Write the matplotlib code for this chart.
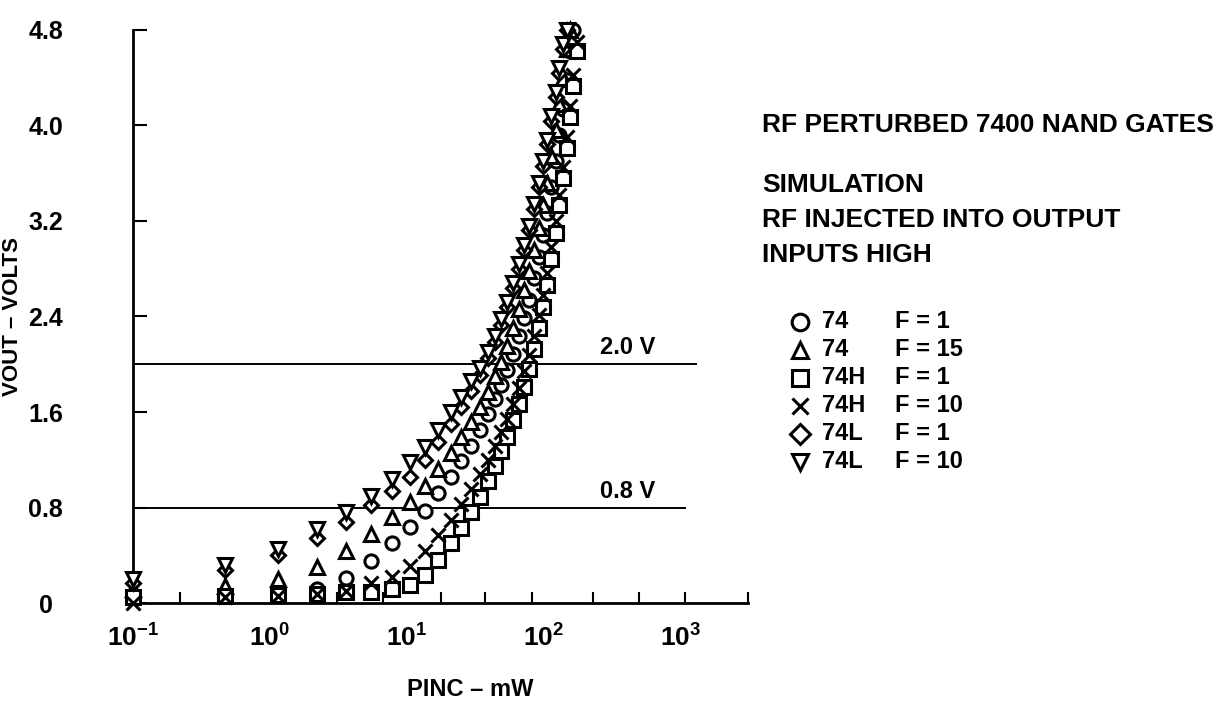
import numpy as np
import matplotlib.pyplot as plt
from matplotlib.lines import Line2D
from matplotlib.ticker import FixedLocator, NullFormatter

plt.rcParams["font.family"] = ["Liberation Sans", "DejaVu Sans"]
plt.rcParams["font.weight"] = "bold"
plt.rcParams["mathtext.fontset"] = "custom"
plt.rcParams["mathtext.rm"] = "Liberation Sans:bold"
plt.rcParams["mathtext.bf"] = "Liberation Sans:bold"

# =====================================================
# Data
# =====================================================

# incident RF power, mW (shared sample points)
pinc = [0.1, 0.47, 1.15, 2.2, 3.6, 5.5, 7.8, 10.5, 13.5, 17, 21, 25, 29.5,
        34, 39, 44, 49, 54, 60, 66, 72, 78, 85, 92, 99, 106, 114, 122, 130,
        138, 147, 156, 165, 175]

# output voltage, V
v_74_f1 = [0.07, 0.06, 0.08, 0.12, 0.21, 0.35, 0.50, 0.64, 0.77, 0.92, 1.06,
           1.19, 1.32, 1.45, 1.58, 1.71, 1.83, 1.95, 2.09, 2.24, 2.39, 2.54,
           2.72, 2.90, 3.08, 3.27, 3.48, 3.70, 3.92, 4.14, 4.38, 4.62, 4.80]
v_74_f15 = [0.12, 0.14, 0.20, 0.30, 0.44, 0.58, 0.72, 0.85, 0.98, 1.12, 1.26,
            1.39, 1.52, 1.64, 1.77, 1.90, 2.02, 2.15, 2.30, 2.46, 2.62, 2.78,
            2.96, 3.14, 3.33, 3.52, 3.74, 3.96, 4.18, 4.40, 4.64, 4.80]
v_74h_f1 = [0.05, 0.06, 0.07, 0.08, 0.09, 0.09, 0.12, 0.15, 0.24, 0.36, 0.50,
            0.63, 0.76, 0.89, 1.02, 1.15, 1.27, 1.39, 1.53, 1.67, 1.81, 1.96,
            2.13, 2.30, 2.48, 2.66, 2.88, 3.10, 3.33, 3.56, 3.81, 4.07, 4.33,
            4.62]
v_74h_f10 = [0.00, 0.05, 0.06, 0.08, 0.10, 0.17, 0.22, 0.31, 0.44, 0.57, 0.70,
             0.83, 0.96, 1.08, 1.20, 1.32, 1.43, 1.54, 1.67, 1.80, 1.94, 2.08,
             2.24, 2.41, 2.58, 2.76, 2.98, 3.20, 3.42, 3.65, 3.90, 4.16, 4.42,
             4.70]
v_74l_f1 = [0.17, 0.28, 0.40, 0.55, 0.68, 0.82, 0.94, 1.06, 1.20, 1.35, 1.50,
            1.64, 1.78, 1.91, 2.05, 2.19, 2.33, 2.48, 2.64, 2.80, 2.96, 3.12,
            3.30, 3.48, 3.66, 3.84, 4.04, 4.24, 4.44, 4.64, 4.80]
v_74l_f10 = [0.20, 0.32, 0.45, 0.62, 0.76, 0.90, 1.04, 1.18, 1.31, 1.45, 1.60,
             1.73, 1.86, 1.97, 2.10, 2.24, 2.38, 2.52, 2.68, 2.84, 3.00, 3.16,
             3.34, 3.52, 3.70, 3.88, 4.08, 4.28, 4.48, 4.68, 4.80]

series = [
    ("o", "74", "F = 1", v_74_f1),
    ("^", "74", "F = 15", v_74_f15),
    ("s", "74H", "F = 1", v_74h_f1),
    ("x", "74H", "F = 10", v_74h_f10),
    ("D", "74L", "F = 1", v_74l_f1),
    ("v", "74L", "F = 10", v_74l_f10),
]

thresholds = [2.0, 0.8]
threshold_ends = [1320, 1100]
threshold_labels = ["2.0 V", "0.8 V"]

# =====================================================
# Plot
# =====================================================

fig = plt.figure(figsize=(12.32, 7.08), dpi=100)
ax = fig.add_axes([0.108, 0.148, 0.499, 0.810])

for marker, gate, fan, volts in series:
    ms = 7.5 if marker == "D" else 9.5
    ax.plot(pinc[:len(volts)], volts, linestyle="none", marker=marker,
            markersize=ms, markerfacecolor="white", markeredgecolor="black",
            markeredgewidth=2.2, color="black", clip_on=False, zorder=3)

for level, end, label in zip(thresholds, threshold_ends, threshold_labels):
    ax.hlines(level, 0.1, end, color="black", linewidth=1.4, clip_on=False)
    ax.text(260, level + 0.04, label, fontsize=17, fontweight="bold",
            ha="left", va="bottom")

ax.set_xscale("log")
ax.set_xlim(0.1, 3100)
ax.set_ylim(0, 4.8)

for side in ["top", "right"]:
    ax.spines[side].set_visible(False)
for side in ["left", "bottom"]:
    ax.spines[side].set_linewidth(2)

# y axis
ax.set_yticks([0, 0.8, 1.6, 2.4, 3.2, 4.0, 4.8])
ax.set_yticklabels(["0", "0.8", "1.6", "2.4", "3.2", "4.0", "4.8"])
ax.tick_params(axis="y", direction="in", length=10, width=1.5, pad=63,
               labelsize=18)
for lab in ax.get_yticklabels():
    lab.set_horizontalalignment("center")
    lab.set_fontweight("bold")

# x axis: decade labels, small irregular inward ticks
ax.set_xticks([0.1, 1, 10, 100, 1000])
ax.set_xticklabels([r"$\mathbf{10^{-1}}$", r"$\mathbf{10^{0}}$",
                    r"$\mathbf{10^{1}}$", r"$\mathbf{10^{2}}$",
                    r"$\mathbf{10^{3}}$"])
ax.tick_params(axis="x", which="major", length=0, pad=15, labelsize=19)
ax.xaxis.set_minor_locator(FixedLocator(
    [0.22, 0.48, 1.15, 3.1, 6.7, 17.7, 37, 82, 231, 500, 1070, 3090]))
ax.xaxis.set_minor_formatter(NullFormatter())
ax.tick_params(axis="x", which="minor", direction="in", length=8, width=1.5)

fig.text(13 / 1232, 1 - 316 / 708, "VOUT – VOLTS", rotation=90,
         fontsize=16, fontweight="bold", ha="center", va="center")
fig.text(470 / 1232, 1 - 690 / 708, "PINC – mW", fontsize=17,
         fontweight="bold", ha="center", va="center")

# =====================================================
# Annotation block and legend
# =====================================================

block = [("RF PERTURBED 7400 NAND GATES", 125),
         ("SIMULATION", 185),
         ("RF INJECTED INTO OUTPUT", 220),
         ("INPUTS HIGH", 255)]
for text, ypix in block:
    fig.text(762 / 1232, 1 - ypix / 708, text, fontsize=19,
             fontweight="bold", ha="left", va="center")

for i, (marker, gate, fan, volts) in enumerate(series):
    yfig = 1 - (322 + 28 * i) / 708
    ms = 10 if marker == "D" else 12
    fig.add_artist(Line2D([800 / 1232], [yfig], marker=marker,
                          markersize=ms, markerfacecolor="white",
                          markeredgecolor="black", markeredgewidth=2.2,
                          color="black", linestyle="none"))
    fig.text(822 / 1232, yfig, gate, fontsize=17, fontweight="bold",
             ha="left", va="center")
    fig.text(895 / 1232, yfig, fan, fontsize=17, fontweight="bold",
             ha="left", va="center")

fig.savefig("out.png", dpi=100)
